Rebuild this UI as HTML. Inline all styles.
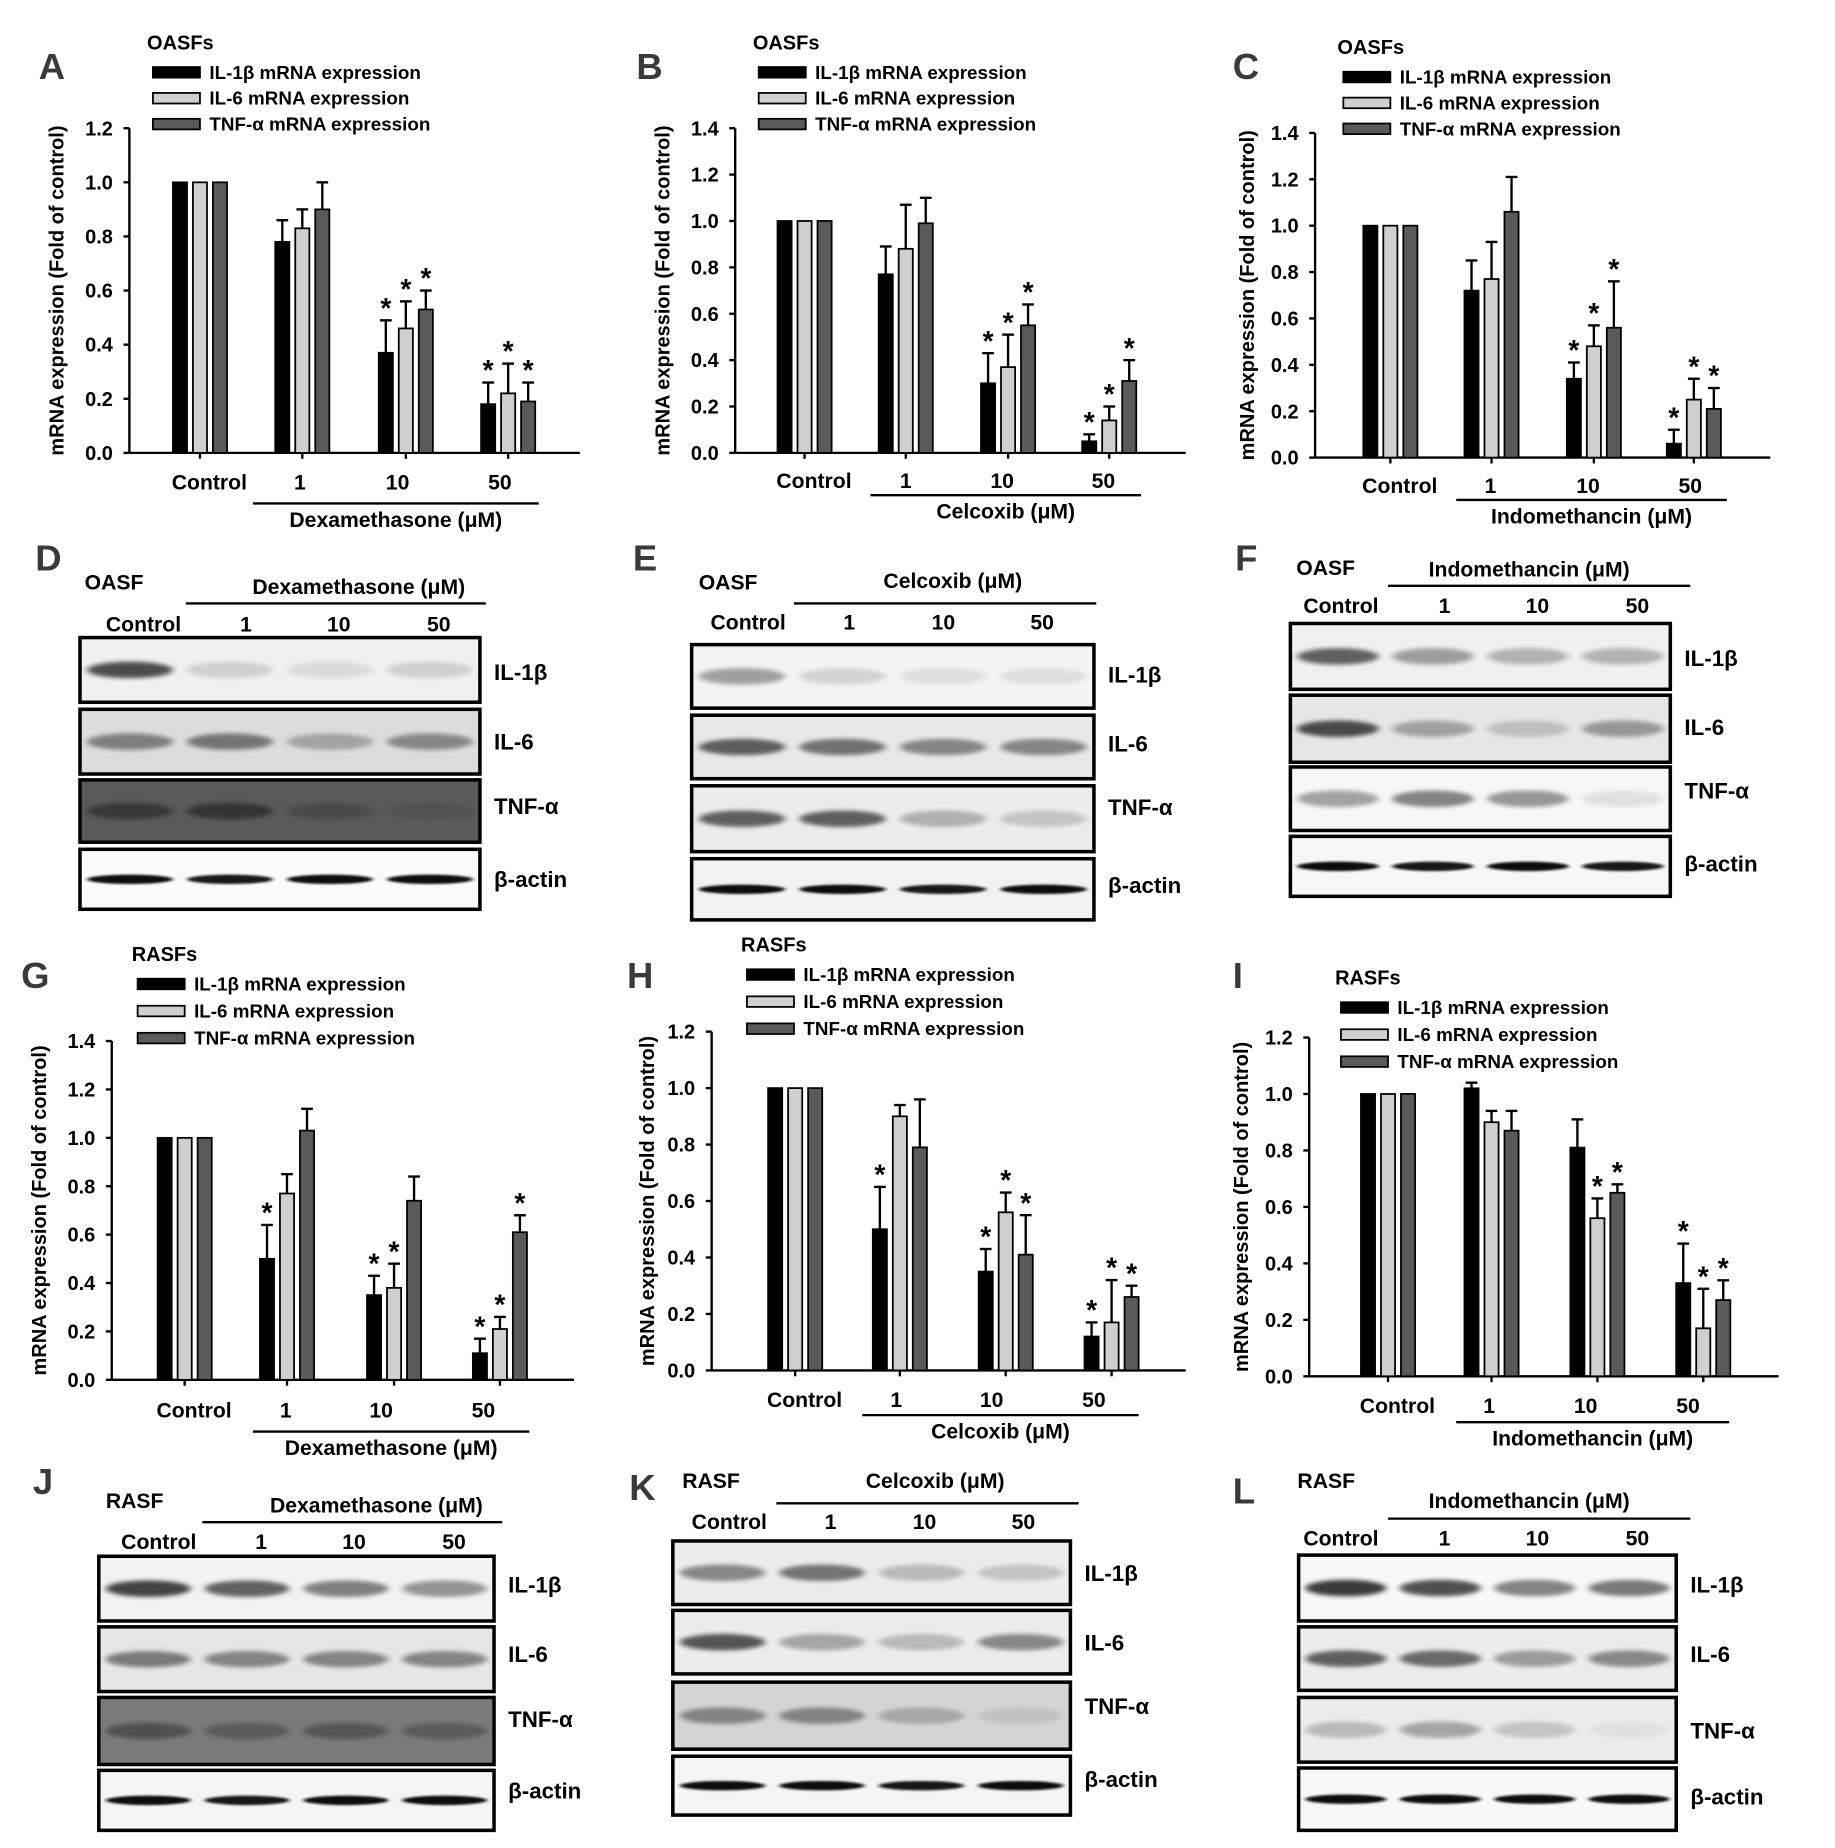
<!DOCTYPE html>
<html><head><meta charset="utf-8">
<style>html,body{margin:0;padding:0;background:#fff;}svg{display:block}
text{font-family:"Liberation Sans",Arial,sans-serif;font-weight:bold;fill:#000}</style></head>
<body>
<svg id="s" xmlns="http://www.w3.org/2000/svg" width="1835" height="1848" viewBox="0 0 1560 1571" preserveAspectRatio="none">
<defs>
<filter id="bl" x="-20%" y="-200%" width="140%" height="500%"><feGaussianBlur stdDeviation="3 1.8"/></filter>
<filter id="bl2" x="-20%" y="-200%" width="140%" height="500%"><feGaussianBlur stdDeviation="2 1"/></filter>
</defs>
</svg>
<script>
var s=document.getElementById('s'),out='';
function T(x,y,t,sz,anc,extra){out+='<text x="'+x+'" y="'+y+'" font-size="'+(sz||17)+'" text-anchor="'+(anc||'start')+'" '+(extra||'')+'>'+t+'</text>';}
function L(x1,y1,x2,y2,w){out+='<line x1="'+x1+'" y1="'+y1+'" x2="'+x2+'" y2="'+y2+'" stroke="#000" stroke-width="'+(w||2)+'"/>';}
var cols=['#000','#cfcfcf','#5a5a5a'];
function chart(c){
 var y0=c.y0,k=(c.y0-c.ytop)/c.ymax;
 L(c.ax,c.ytop,c.ax,y0,2);L(c.ax,y0,c.xend,y0,2);
 for(var v=0;v<=c.ymax+1e-6;v+=0.2){var yy=y0-v*k;L(c.ax-5,yy,c.ax,yy,2);T(c.ax-14,yy+6,v.toFixed(1),17,'end');}
 c.g.forEach(function(gx){L(gx,y0,gx,y0+5,2);});
 c.g.forEach(function(gx,gi){
  for(var b=0;b<3;b++){
   var d=c.d[gi][b],val=d[0],err=d[1],st=d[2];
   var bx=gx-23+b*17,bw=12,top=y0-val*k;
   out+='<rect x="'+bx+'" y="'+top+'" width="'+bw+'" height="'+(val*k)+'" fill="'+cols[b]+'" stroke="#000" stroke-width="1.5"/>';
   if(err>0){var ey=top-err*k;L(bx+bw/2,top,bx+bw/2,ey,2);L(bx+bw/2-5,ey,bx+bw/2+5,ey,2);
    if(st)T(bx+bw/2,ey-2,'*',24,'middle');}
  }
 });
 T(c.lab[0],c.ly,'Control',18,'middle');T(c.lab[1],c.ly,'1',18,'middle');T(c.lab[2],c.ly,'10',18,'middle');T(c.lab[3],c.ly,'50',18,'middle');
 L(c.line[0],c.line[2],c.line[1],c.line[2],2);
 T((c.line[0]+c.line[1])/2,c.line[2]+20,c.drug+' (μM)',18,'middle');
 T(0,0,'mRNA expression (Fold of control)',17,'middle','transform="translate('+c.ylx+','+((c.ytop+y0)/2)+') rotate(-90)"');
 T(c.leg[0]-5,c.leg[1]-20,c.cell,17);
 var names=['IL-1β mRNA expression','IL-6 mRNA expression','TNF-α mRNA expression'];
 for(var i=0;i<3;i++){var ly=c.leg[1]+i*c.leg[2];
  out+='<rect x="'+c.leg[0]+'" y="'+(ly-5)+'" width="40" height="9" fill="'+cols[i]+'" stroke="#000" stroke-width="1.5"/>';
  T(c.leg[0]+48,ly+5,names[i],16);}
 T(c.letter[0],c.letter[1],c.L,31,'start','style="fill:#3a3a3a"');
}
chart({cell:'OASFs',L:'A',letter:[33,67],ax:110,ytop:109,y0:385,ymax:1.2,xend:493,g:[170,257,345,432],
 d:[[[1,0],[1,0],[1,0]],[[.78,.08],[.83,.07],[.90,.10]],[[.37,.12,1],[.46,.10,1],[.53,.07,1]],[[.18,.08,1],[.22,.11,1],[.19,.07,1]]],
 lab:[178,255,338,425],ly:416,line:[215,458,428],drug:'Dexamethasone',ylx:54,leg:[130,62,22]});
chart({cell:'OASFs',L:'B',letter:[541,67],ax:625,ytop:109,y0:385,ymax:1.4,xend:1008,g:[684,770,857,943],
 d:[[[1,0],[1,0],[1,0]],[[.77,.12],[.88,.19],[.99,.11]],[[.30,.13,1],[.37,.14,1],[.55,.09,1]],[[.05,.03,1],[.14,.06,1],[.31,.09,1]]],
 lab:[692,770,852,938],ly:415,line:[740,970,421],drug:'Celcoxib',ylx:569,leg:[645,62,22]});
chart({cell:'OASFs',L:'C',letter:[1048,67],ax:1118,ytop:113,y0:389,ymax:1.4,xend:1505,g:[1182,1268,1355,1440],
 d:[[[1,0],[1,0],[1,0]],[[.72,.13],[.77,.16],[1.06,.15]],[[.34,.07,1],[.48,.09,1],[.56,.20,1]],[[.06,.06,1],[.25,.09,1],[.21,.09,1]]],
 lab:[1190,1267,1350,1437],ly:419,line:[1238,1468,425],drug:'Indomethancin',ylx:1066,leg:[1142,66,22]});
chart({cell:'RASFs',L:'G',letter:[18,840],ax:95,ytop:885,y0:1173,ymax:1.4,xend:488,g:[157,244,335,425],
 d:[[[1,0],[1,0],[1,0]],[[.50,.14,1],[.77,.08],[1.03,.09]],[[.35,.08,1],[.38,.10,1],[.74,.10]],[[.11,.06,1],[.21,.05,1],[.61,.07,1]]],
 lab:[165,243,324,411],ly:1205,line:[215,450,1217],drug:'Dexamethasone',ylx:39,leg:[117,837,23]});
chart({cell:'RASFs',L:'H',letter:[533,840],ax:605,ytop:877,y0:1165,ymax:1.2,xend:1008,g:[676,765,855,945],
 d:[[[1,0],[1,0],[1,0]],[[.50,.15,1],[.90,.04],[.79,.17]],[[.35,.08,1],[.56,.07,1],[.41,.14,1]],[[.12,.05,1],[.17,.15,1],[.26,.04,1]]],
 lab:[684,762,843,930],ly:1196,line:[733,968,1203],drug:'Celcoxib',ylx:556,leg:[635,829,23]});
chart({cell:'RASFs',L:'I',letter:[1048,840],ax:1113,ytop:882,y0:1170,ymax:1.2,xend:1512,g:[1180,1268,1358,1448],
 d:[[[1,0],[1,0],[1,0]],[[1.02,.02],[.90,.04],[.87,.07]],[[.81,.10],[.56,.07,1],[.65,.03,1]],[[.33,.14,1],[.17,.14,1],[.27,.07,1]]],
 lab:[1188,1266,1348,1435],ly:1201,line:[1238,1470,1209],drug:'Indomethancin',ylx:1061,leg:[1140,857,23]});

function blot(b){
 T(b.letter[0],b.letter[1],b.L,31,'start','style="fill:#3a3a3a"');
 T(b.cell[0],b.cell[1],b.cellName,18);
 T(b.drugp[0],b.drugp[1],b.drug+' (μM)',18,'middle');
 L(b.dl[0],b.dl[2],b.dl[1],b.dl[2],2);
 var h=b.hdr;T(h[0],h[4],'Control',18,'middle');T(h[1],h[4],'1',18,'middle');T(h[2],h[4],'10',18,'middle');T(h[3],h[4],'50',18,'middle');
 var names=['IL-1β','IL-6','TNF-α','β-actin'];
 var x1=b.x[0],x2=b.x[1],W=x2-x1,lw=W/4;
 b.rows.forEach(function(r,i){
  var y1=r[0],y2=r[1],H=y2-y1,bg=b.bg[i],inten=b.int[i];
  out+='<rect x="'+x1+'" y="'+y1+'" width="'+W+'" height="'+H+'" fill="'+bg+'"/>';
  var cy=y1+H*0.5;
  for(var j=0;j<4;j++){var a=inten[j]*(i==3?1:0.85);if(a<=0)continue;
   var cx=x1+lw*(j+0.5),bh=(i==3?4:7);
   out+='<ellipse cx="'+cx+'" cy="'+cy+'" rx="'+(lw*0.43)+'" ry="'+bh+'" fill="#000" opacity="'+a+'" filter="url(#'+(i==3?'bl2':'bl')+')"/>';}
  out+='<rect x="'+x1+'" y="'+y1+'" width="'+W+'" height="'+H+'" fill="none" stroke="#000" stroke-width="3"/>';
  T(x2+12,r[2],names[i],19);
 });
}
blot({L:'D',letter:[30,485],cell:[72,501],cellName:'OASF',drugp:[305,505],drug:'Dexamethasone',dl:[158,413,513],hdr:[122,209,288,373,537],
 x:[68,408],rows:[[542,597,578],[603,658,637],[663,716,692],[722,773,754]],
 bg:['#f0f0f0','#dcdcdc','#5a5a5a','#fafafa'],int:[[.8,.15,.1,.15],[.5,.55,.3,.45],[.45,.5,.2,.1],[.95,.9,.95,.95]]});
blot({L:'E',letter:[538,485],cell:[594,501],cellName:'OASF',drugp:[810,500],drug:'Celcoxib',dl:[675,932,513],hdr:[636,722,802,886,535],
 x:[588,930],rows:[[548,602,580],[608,662,639],[668,724,693],[730,782,759]],
 bg:['#f3f3f3','#e8e8e8','#ececec','#f2f2f2'],int:[[.4,.15,.1,.1],[.7,.6,.5,.5],[.7,.7,.3,.2],[.95,.95,.9,.95]]});
blot({L:'F',letter:[1050,485],cell:[1102,489],cellName:'OASF',drugp:[1300,490],drug:'Indomethancin',dl:[1180,1437,498],hdr:[1140,1228,1307,1392,521],
 x:[1097,1420],rows:[[530,586,566],[591,648,625],[652,706,679],[711,762,741]],
 bg:['#f0f0f0','#e6e6e6','#f7f7f7','#f7f7f7'],int:[[.7,.4,.3,.3],[.8,.35,.2,.4],[.4,.55,.45,.1],[.95,.9,.95,.9]]});
blot({L:'J',letter:[28,1270],cell:[90,1282],cellName:'RASF',drugp:[320,1286],drug:'Dexamethasone',dl:[172,427,1294],hdr:[135,222,301,386,1317],
 x:[84,420],rows:[[1323,1378,1354],[1383,1438,1413],[1443,1500,1468],[1505,1556,1529]],
 bg:['#f2f2f2','#e6e6e6','#7a7a7a','#f5f5f5'],int:[[.85,.7,.55,.45],[.55,.5,.5,.5],[.4,.3,.35,.3],[.95,.9,.95,.95]]});
blot({L:'K',letter:[535,1275],cell:[580,1265],cellName:'RASF',drugp:[795,1265],drug:'Celcoxib',dl:[660,917,1278],hdr:[620,706,786,870,1300],
 x:[572,910],rows:[[1310,1364,1344],[1369,1423,1403],[1430,1487,1457],[1493,1543,1519]],
 bg:['#ececec','#ececec','#d4d4d4','#f5f5f5'],int:[[.5,.6,.25,.2],[.75,.35,.25,.5],[.45,.45,.25,.1],[.95,.95,.9,.95]]});
blot({L:'L',letter:[1048,1278],cell:[1103,1265],cellName:'RASF',drugp:[1300,1282],drug:'Indomethancin',dl:[1180,1437,1291],hdr:[1140,1228,1307,1392,1314],
 x:[1104,1425],rows:[[1322,1378,1354],[1383,1437,1413],[1443,1498,1478],[1503,1556,1534]],
 bg:['#f8f8f8','#ececec','#ececec','#f8f8f8'],int:[[.9,.8,.55,.6],[.7,.65,.4,.5],[.25,.35,.2,.05],[.95,.95,.95,.95]]});
s.insertAdjacentHTML('beforeend',out);
</script>
</body></html>
